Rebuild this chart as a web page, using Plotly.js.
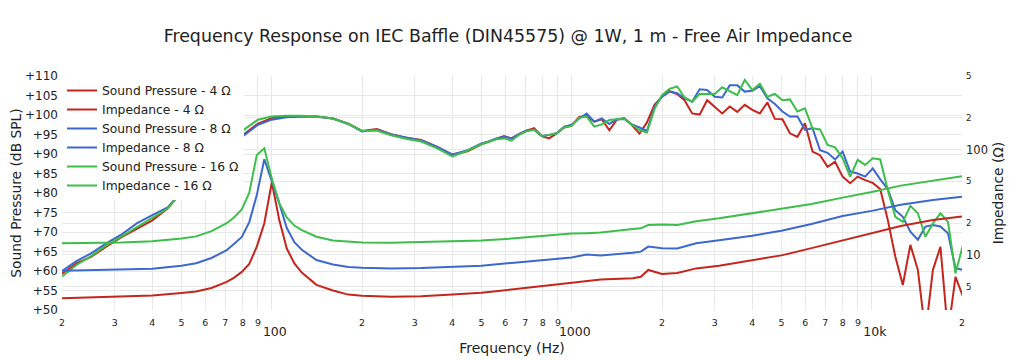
<!DOCTYPE html>
<html>
<head>
<meta charset="utf-8">
<script src="https://cdn.plot.ly/plotly-3.0.1.min.js"></script>
<style>html,body{margin:0;padding:0;background:#fff;}#chart{width:1016px;height:360px;}</style>
</head>
<body>
<div id="chart"></div>
<script>
// Frequencies (Hz) for the sound-pressure curves
const freqSpl = [20, 22.4, 25, 28, 31.5, 35.5, 40, 45, 50, 56, 63, 71, 80, 90, 100, 112, 125, 140, 160, 180, 200, 224, 250, 280, 315, 355, 400, 450,
  500, 530, 561, 595, 630, 667, 707, 749, 794, 841, 891, 944, 1000, 1059, 1122, 1189, 1260, 1335, 1414, 1498, 1587, 1682, 1782, 1888,
  2000, 2119, 2245, 2378, 2520, 2670, 2828, 2997, 3175, 3364, 3564, 3775, 4000, 4238, 4490, 4757, 5040, 5339, 5657, 5993, 6350, 6727,
  7127, 7551, 8000, 8476, 8980, 9514, 10079, 10679, 11314, 11986, 12699, 13454, 14254, 15102, 16000, 16951, 17959, 19027, 20159];

// Sound pressure (dB SPL)
const spl4 = [59.3, 62.0, 63.6, 66.2, 68.6, 70.8, 73.0, 76.0, 80.3, 84.0, 88.0, 91.5, 94.8, 97.8, 99.2, 99.6, 99.6, 99.6, 99.1, 97.8, 95.9, 96.4, 95.1, 94.2, 93.6, 91.9, 89.8, 90.7,
  92.5, 93.2, 94.0, 94.6, 94.0, 95.1, 96.0, 96.6, 94.6, 94.0, 95.3, 96.8, 97.3, 99.5, 99.8, 98.3, 98.9, 96.1, 98.8, 99.2,
  97.4, 95.2, 98.1, 102.6, 104.7, 106.1, 105.4, 103.8, 100.4, 100.1, 103.8, 102.1, 100.4, 102.2, 100.8, 102.6, 101.3, 100.4, 103.2, 99.0,
  98.9, 95.3, 94.4, 97.9, 90.6, 89.7, 86.7, 88.0, 84.2, 82.5, 84.2, 83.3, 82.6, 81.0, 73.1, 63.7, 56.4, 66.7, 60.3, 44.0,
  60.3, 66.2, 44.0, 58.5, 53.4];
const spl8 = [60.0, 62.6, 64.5, 67.0, 69.3, 72.2, 74.3, 76.3, 80.3, 84.0, 88.0, 91.5, 94.5, 97.5, 98.8, 99.4, 99.6, 99.6, 99.1, 97.7, 95.8, 96.2, 95.0, 94.2, 93.5, 91.9, 89.9, 91.0,
  92.7, 93.2, 94.0, 94.4, 94.0, 95.1, 96.0, 96.2, 94.6, 94.9, 95.3, 97.0, 97.5, 99.1, 100.4, 98.3, 99.1, 97.7, 98.9, 99.0,
  97.6, 96.8, 95.9, 102.1, 104.7, 106.0, 105.6, 104.3, 103.4, 106.6, 106.4, 104.7, 104.5, 107.6, 107.6, 106.0, 106.2, 107.4, 104.3, 102.8,
  100.9, 99.6, 99.6, 96.2, 96.6, 91.0, 90.3, 88.6, 90.6, 85.5, 85.0, 84.2, 86.3, 83.5, 81.0, 75.6, 73.9, 70.1, 68.0, 71.4,
  71.8, 71.4, 69.7, 60.7, 60.3];
const spl16 = [58.6, 61.6, 63.8, 66.5, 68.8, 71.2, 73.6, 76.0, 80.3, 84.0, 88.5, 92.5, 96.0, 98.8, 99.6, 99.8, 99.8, 99.7, 99.1, 97.7, 95.9, 96.0, 94.8, 93.9, 93.2, 91.5, 89.4, 90.9,
  92.5, 93.2, 93.8, 94.0, 93.4, 94.9, 95.8, 96.2, 94.6, 94.9, 95.3, 96.8, 97.2, 99.3, 99.6, 97.0, 97.6, 98.7, 98.9, 99.1,
  97.5, 96.1, 95.5, 101.5, 105.1, 106.7, 107.3, 104.5, 103.4, 105.4, 105.4, 105.4, 107.1, 106.0, 105.1, 109.0, 106.4, 108.0, 104.7, 105.4,
  103.8, 104.0, 100.9, 101.7, 96.6, 96.3, 92.3, 91.7, 88.9, 84.2, 88.5, 87.2, 88.9, 88.6, 80.8, 73.9, 72.6, 76.7, 74.8, 68.8,
  72.2, 74.8, 72.6, 59.4, 66.7];

// Frequencies (Hz) for the impedance curves
const freqImp = [20, 25, 31.5, 40, 50, 56, 63, 70.8, 75, 79.5, 84.2, 89.2, 94.5, 100.1, 106, 112.3, 119, 126, 141, 160,
  180, 200, 250, 315, 400, 500, 630, 800, 1000, 1120, 1250, 1600, 1700, 1800, 2000, 2250, 2600, 3100, 4000, 5000,
  6300, 8000, 10000, 12500, 16000, 20000];

// Impedance (Ohm)
const imp4 = [3.87, 3.95, 4.02, 4.12, 4.35, 4.5, 4.85, 5.55, 6.1, 6.9, 8.2, 12.0, 20, 49, 21.4, 11.5, 8.3, 6.8, 5.2, 4.6,
  4.2, 4.1, 4.0, 4.05, 4.2, 4.37, 4.7, 5.1, 5.45, 5.7, 5.85, 6.0, 6.2, 7.2, 6.6, 6.75, 7.45, 7.9, 8.95, 9.9,
  11.6, 13.8, 16.0, 18.8, 21.5, 23.2];
const imp8 = [7.08, 7.15, 7.25, 7.4, 7.9, 8.35, 9.35, 11.1, 12.8, 14.8, 20.5, 37, 81, 51, 30.9, 18.0, 13.2, 11.2, 8.95, 8.1,
  7.7, 7.55, 7.45, 7.5, 7.7, 7.9, 8.4, 8.95, 9.45, 10.1, 9.9, 10.5, 10.75, 12.0, 11.6, 11.5, 12.9, 13.8, 15.2, 17.0,
  19.7, 23.4, 26.2, 29.9, 33.2, 35.7];
const imp16 = [12.9, 13.0, 13.1, 13.5, 14.3, 15.0, 16.8, 20.0, 22.8, 27, 39, 89, 103, 53, 31, 22.7, 19.0, 17.2, 14.9, 13.7,
  13.3, 13.1, 13.05, 13.2, 13.4, 13.7, 14.3, 15.2, 16.0, 16.1, 16.3, 17.6, 17.9, 19.2, 19.5, 19.2, 20.9, 22.3, 25.0, 27.3,
  30.4, 35.0, 39.5, 45.5, 51, 56];

const seriesNames = ['Sound Pressure - 4 Ω', 'Impedance - 4 Ω', 'Sound Pressure - 8 Ω', 'Impedance - 8 Ω', 'Sound Pressure - 16 Ω', 'Impedance - 16 Ω'];

const RED = '#C4261D', BLUE = '#3D69CC', GREEN = '#3DBE4B';
const FONT = 'DejaVu Sans, Verdana, sans-serif';

function tr(name, x, y, color, axis) {
  return {type: 'scatter', mode: 'lines', name: name, x: x, y: y, yaxis: axis,
    line: {color: color, width: 2}, hoverinfo: 'skip'};
}

const data = [
  tr(seriesNames[0], freqSpl, spl4, RED, 'y'),
  tr(seriesNames[1], freqImp, imp4, RED, 'y2'),
  tr(seriesNames[2], freqSpl, spl8, BLUE, 'y'),
  tr(seriesNames[3], freqImp, imp8, BLUE, 'y2'),
  tr(seriesNames[4], freqSpl, spl16, GREEN, 'y'),
  tr(seriesNames[5], freqImp, imp16, GREEN, 'y2')
];

const layout = {
  width: 1016, height: 360,
  margin: {l: 62, r: 54, t: 76, b: 50},
  paper_bgcolor: '#fff', plot_bgcolor: '#fff',
  font: {family: FONT, size: 12, color: '#222'},
  title: {text: 'Frequency Response on IEC Baffle (DIN45575) @ 1W, 1 m - Free Air Impedance',
    x: 0.5, xref: 'container', y: 0.9, yref: 'container', yanchor: 'middle',
    font: {family: FONT, size: 17.4, color: '#222'}},
  showlegend: true,
  legend: {x: 0, y: 1, xanchor: 'left', yanchor: 'top', bgcolor: 'rgba(255,255,255,1)',
    font: {family: FONT, size: 12.3, color: '#222'}, tracegroupgap: 0},
  xaxis: {type: 'log', range: [Math.log10(20), Math.log10(20000)], dtick: 'D1',
    showgrid: true, gridcolor: '#e8e8e8', zeroline: false, showline: false, ticks: '',
    ticklabelstandoff: 6,
    tickfont: {family: FONT, size: 12.5, color: '#222'},
    title: {text: 'Frequency (Hz)', font: {family: FONT, size: 14, color: '#222'}, standoff: 5}},
  yaxis: {range: [50, 110], dtick: 5, tickprefix: '+', showgrid: true, gridcolor: '#e8e8e8',
    zeroline: false, ticks: '', ticklabelstandoff: 3, tickfont: {family: FONT, size: 12, color: '#222'},
    title: {text: 'Sound Pressure (dB SPL)', font: {family: FONT, size: 13.8, color: '#222'}, standoff: 0}},
  yaxis2: {type: 'log', range: [Math.log10(3), Math.log10(500)], dtick: 'D2', overlaying: 'y', side: 'right',
    showgrid: true, gridcolor: '#e8e8e8', zeroline: false, ticks: '', ticklabelstandoff: 3,
    tickfont: {family: FONT, size: 11.5, color: '#222'},
    title: {text: 'Impedance (Ω)', font: {family: FONT, size: 13.8, color: '#222'}, standoff: 6}}
};

Plotly.newPlot('chart', data, layout, {displayModeBar: false, staticPlot: true});
</script>
</body>
</html>
